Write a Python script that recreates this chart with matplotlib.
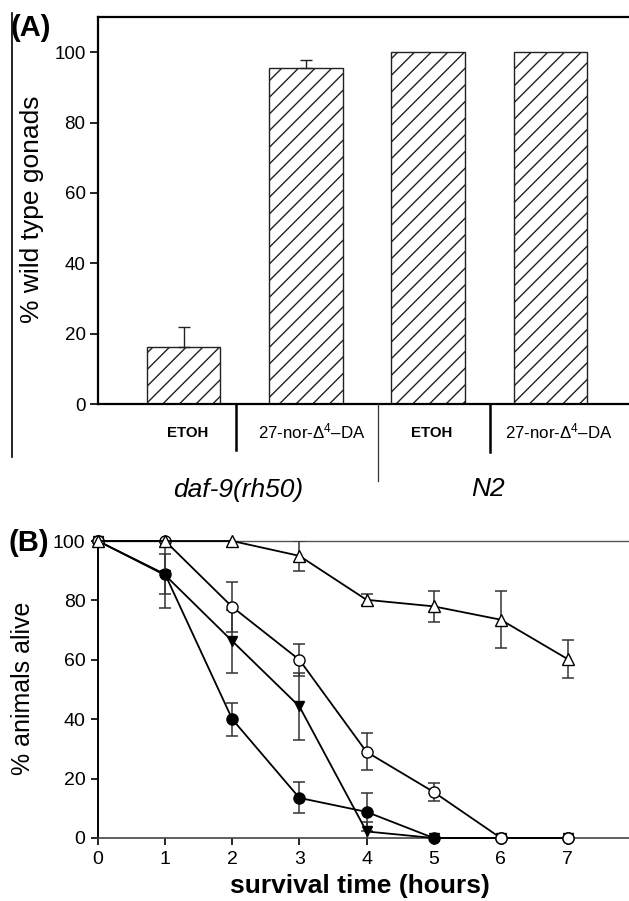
import matplotlib
matplotlib.use('Agg')
import matplotlib.pyplot as plt
from matplotlib.lines import Line2D

plt.rcParams['font.family'] = ['Liberation Sans', 'DejaVu Sans']
plt.rcParams['mathtext.fontset'] = 'custom'
plt.rcParams['mathtext.rm'] = 'Liberation Sans'
plt.rcParams['mathtext.it'] = 'Liberation Sans:italic'
plt.rcParams['mathtext.bf'] = 'Liberation Sans:bold'
plt.rcParams['hatch.linewidth'] = 1.0

# panel A data
treatments = ['ETOH', '27-nor-Δ$^{4}$–DA', 'ETOH', '27-nor-Δ$^{4}$–DA']
strains = ['daf-9(rh50)', 'N2']
pct_wt = [16.3, 95.4, 100, 100]
pct_wt_err = [5.7, 2.4, 0, 0]

# panel B data
hours = [0, 1, 2, 3, 4, 5, 6, 7]
open_tri = [100, 100, 100, 95.0, 80.2, 78.0, 73.5, 60.2]
open_tri_err = [0, 0, 0, 5.0, 1.8, 5.2, 9.5, 6.3]
open_circ = [100, 100, 77.8, 60.0, 29.0, 15.5, 0, 0]
open_circ_err = [0, 0, 8.4, 5.4, 6.2, 3.1, 0, 0]
down_tri = [100, 88.5, 66.3, 44.3, 2.2, 0, 0, 0]
down_tri_err = [0, 11.0, 10.6, 11.2, 3.2, 0, 0, 0]
filled_circ = [100, 88.8, 40.0, 13.5, 8.8, 0, 0, 0]
filled_circ_err = [0, 6.7, 5.5, 5.2, 6.4, 0, 0, 0]

W, H = 629, 901
fig = plt.figure(figsize=(W / 100, H / 100), dpi=100)

def fx(px):
	return px / W

def fy(py):
	return 1 - py / H

def nonzero(x, y, e):
	"""Keep only the points that have an error bar."""
	keep = [i for i in range(len(e)) if e[i] > 0]
	return [x[i] for i in keep], [y[i] for i in keep], [e[i] for i in keep]

# ---- panel A ----
axA = fig.add_axes([fx(98), fy(404), fx(538), 387 / H])
xs = list(range(len(pct_wt)))
axA.bar(xs, pct_wt, width=0.6, color='white', edgecolor='#222222',
	linewidth=1.0, hatch='//', zorder=2)
ex, ey, ee = nonzero(xs, pct_wt, pct_wt_err)
axA.errorbar(ex, ey, yerr=[[0] * len(ee), ee], fmt='none',
	ecolor='#222222', elinewidth=1.0, capsize=4.3, capthick=1.0, zorder=3)
axA.set_xlim(-0.7, 3.7)
axA.set_ylim(0, 110)
axA.set_yticks([0, 20, 40, 60, 80, 100])
axA.set_xticks([])
axA.tick_params(axis='y', direction='out', length=6, width=1.2, labelsize=13.5, pad=3)
for s in ['left', 'top', 'bottom']:
	axA.spines[s].set_linewidth(1.6)
axA.spines['right'].set_visible(False)
axA.set_ylabel('% wild type gonads', fontsize=19)
axA.yaxis.set_label_coords((44 - 98) / 538, (404 - 209) / 387)

fig.text(fx(11), fy(28), '(A)', fontsize=21, fontweight='bold', va='center', ha='left')

# left border line
fig.add_artist(Line2D([fx(12), fx(12)], [fy(13), fy(457)], color='black', lw=1.2))

# category labels under panel A
label_x = [188, 312, 432, 559]
for lx, t in zip(label_x, treatments):
	if t == 'ETOH':
		fig.text(fx(lx), fy(433), t, fontsize=10.8, fontweight='bold', ha='center', va='center')
	else:
		fig.text(fx(lx), fy(431), t, fontsize=12.2, ha='center', va='center')
fig.add_artist(Line2D([fx(236), fx(236)], [fy(404), fy(450)], color='black', lw=1.8))
fig.add_artist(Line2D([fx(490), fx(490)], [fy(404), fy(452)], color='black', lw=1.8))
fig.add_artist(Line2D([fx(378), fx(378)], [fy(404), fy(481)], color='#333333', lw=0.9))
fig.text(fx(238), fy(490), strains[0], fontsize=19, style='italic', ha='center', va='center')
fig.text(fx(488), fy(489), strains[1], fontsize=19, style='italic', ha='center', va='center')

# ---- panel B ----
axB = fig.add_axes([fx(98), fy(838), fx(537), 297 / H])
series = [
	(filled_circ, filled_circ_err, 'o', 'black', 8),
	(down_tri, down_tri_err, 'v', 'black', 7.5),
	(open_circ, open_circ_err, 'o', 'white', 8),
	(open_tri, open_tri_err, '^', 'white', 8),
]
z = 3
for vals, errs, mk, face, size in series:
	ex, ey, ee = nonzero(hours, vals, errs)
	axB.errorbar(ex, ey, yerr=ee, fmt='none', ecolor='#333333', elinewidth=1.1,
		capsize=4.5, capthick=1.1, zorder=z)
	axB.plot(hours, vals, '-', marker=mk, color='black', mfc=face, mec='black',
		ms=size, lw=1.3, zorder=z + 1, clip_on=False)
	z += 2
axB.set_xlim(0, 8)
axB.set_ylim(0, 100)
axB.set_xticks(hours)
axB.set_yticks([0, 20, 40, 60, 80, 100])
axB.tick_params(direction='out', length=5, width=1.2, labelsize=14, pad=4)
axB.spines['left'].set_linewidth(1.4)
axB.spines['bottom'].set_linewidth(1.2)
axB.spines['bottom'].set_color('#444444')
axB.spines['top'].set_linewidth(1.0)
axB.spines['top'].set_color('#555555')
axB.spines['right'].set_visible(False)
axB.set_ylabel('% animals alive', fontsize=18)
axB.yaxis.set_label_coords((35 - 98) / 537, (838 - 688) / 297)
axB.set_xlabel('survival time (hours)', fontsize=19, fontweight='bold', labelpad=5)
axB.xaxis.label.set_x((360 - 98) / 537)

fig.text(fx(9), fy(543), '(B)', fontsize=21, fontweight='bold', va='center', ha='left')

fig.savefig('out.png', dpi=100)
